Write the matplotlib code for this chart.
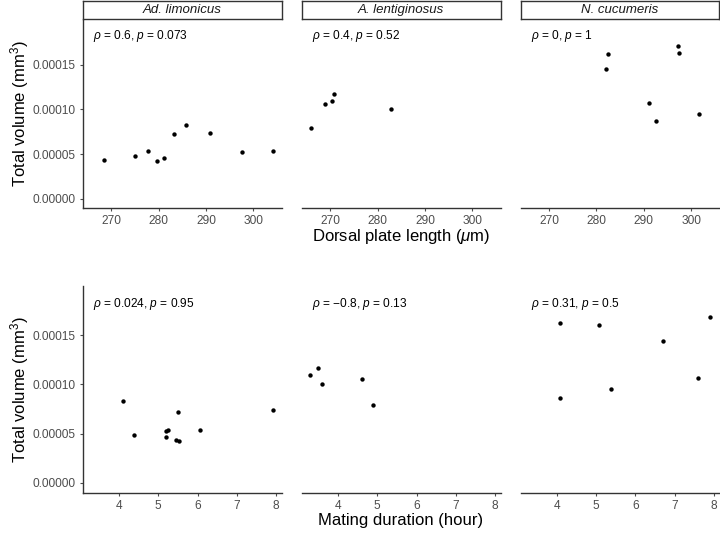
import matplotlib
matplotlib.use("Agg")
import matplotlib.pyplot as plt

plt.rcParams["font.family"] = ["Liberation Sans", "DejaVu Sans"]
plt.rcParams["mathtext.fontset"] = "custom"
plt.rcParams["mathtext.rm"] = "Liberation Sans"
plt.rcParams["mathtext.it"] = "Liberation Sans:italic"

species = ["Ad. limonicus", "A. lentiginosus", "N. cucumeris"]

# dorsal plate length (um) vs total volume (mm^3)
length_lim = [268.5, 275.0, 277.7, 279.7, 281.2, 283.2, 285.9, 290.8, 297.6, 304.1]
vol_len_lim = [4.30e-5, 4.80e-5, 5.32e-5, 4.19e-5, 4.57e-5, 7.21e-5, 8.26e-5, 7.35e-5, 5.20e-5, 5.32e-5]
length_len = [265.9, 268.9, 270.4, 270.8, 282.9]
vol_len_len = [7.96e-5, 1.06e-4, 1.097e-4, 1.17e-4, 1.003e-4]
length_cuc = [282.5, 282.0, 297.3, 297.4, 291.2, 292.5, 301.6]
vol_len_cuc = [1.622e-4, 1.456e-4, 1.708e-4, 1.633e-4, 1.071e-4, 8.68e-5, 9.50e-5]

# mating duration (hour) vs total volume
dur_lim = [4.11, 4.39, 5.21, 5.26, 5.21, 5.51, 5.45, 5.52, 6.07, 7.92]
vol_dur_lim = [8.27e-5, 4.88e-5, 5.24e-5, 5.38e-5, 4.68e-5, 7.23e-5, 4.38e-5, 4.30e-5, 5.34e-5, 7.36e-5]
dur_len = [3.29, 3.50, 3.59, 4.60, 4.90]
vol_dur_len = [1.093e-4, 1.166e-4, 1.002e-4, 1.058e-4, 7.96e-5]
dur_cuc = [4.09, 4.09, 5.08, 5.39, 6.70, 7.60, 7.90]
vol_dur_cuc = [1.620e-4, 8.67e-5, 1.607e-4, 9.52e-5, 1.446e-4, 1.069e-4, 1.690e-4]

cor_len = [r"$\rho$ = 0.6, $p$ = 0.073", r"$\rho$ = 0.4, $p$ = 0.52", r"$\rho$ = 0, $p$ = 1"]
cor_dur = [r"$\rho$ = 0.024, $p$ = 0.95", r"$\rho$ = $-$0.8, $p$ = 0.13", r"$\rho$ = 0.31, $p$ = 0.5"]

len_ticks = [270, 280, 290, 300]
dur_ticks = [4, 5, 6, 7, 8]
vol_ticks = [0, 5e-5, 1e-4, 1.5e-4]
vol_labels = ["0.00000", "0.00005", "0.00010", "0.00015"]

W, H = 720, 533
fig = plt.figure(figsize=(W / 100, H / 100), dpi=100)


def box(x0, y0, x1, y1):
    return [x0 / W, 1 - y1 / H, (x1 - x0) / W, (y1 - y0) / H]


cols = [(82.7, 281.7), (301.7, 500.7), (520.7, 719.5)]
rows = [
    dict(y=(20, 207.7), xs=[length_lim, length_len, length_cuc],
         ys=[vol_len_lim, vol_len_len, vol_len_cuc], xlim=(264.0, 306.0),
         ticks=len_ticks, cor=cor_len, strip=True,
         xlabel=r"Dorsal plate length ($\mu$m)", xlab_y=237),
    dict(y=(286, 492.7), xs=[dur_lim, dur_len, dur_cuc],
         ys=[vol_dur_lim, vol_dur_len, vol_dur_cuc], xlim=(3.075, 8.145),
         ticks=dur_ticks, cor=cor_dur, strip=False,
         xlabel="Mating duration (hour)", xlab_y=521),
]

grey = "#4D4D4D"
for r in rows:
    y0, y1 = r["y"]
    for i, (x0, x1) in enumerate(cols):
        ax = fig.add_axes(box(x0, y0, x1, y1))
        ax.scatter(r["xs"][i], r["ys"][i], s=10, color="black", linewidths=0, zorder=3)
        ax.set_xlim(*r["xlim"])
        ax.set_ylim(-1.0e-5, 2.0e-4)
        ax.set_xticks(r["ticks"])
        ax.set_yticks(vol_ticks)
        ax.set_yticklabels(vol_labels)
        for s in ["top", "right"]:
            ax.spines[s].set_visible(False)
        ax.spines["bottom"].set_color("#333333")
        ax.spines["left"].set_color("#333333")
        ax.spines["bottom"].set_linewidth(1.0)
        ax.spines["left"].set_linewidth(1.0)
        ax.tick_params(labelsize=8.6, colors=grey, length=2.5, width=0.8, pad=3)
        if i > 0:
            ax.spines["left"].set_visible(False)
            ax.tick_params(axis="y", left=False, labelleft=False)
        ax.text(0.053, 0.915, r["cor"][i], transform=ax.transAxes,
                ha="left", va="center", fontsize=8.6, color="black")
        if r["strip"]:
            sax = fig.add_axes(box(x0, 1, x1, 19))
            sax.set_xticks([])
            sax.set_yticks([])
            for s in sax.spines.values():
                s.set_color("#333333")
                s.set_linewidth(1.0)
            sax.text(0.5, 0.5, species[i], ha="center", va="center",
                     fontsize=9.5, style="italic", color="#1A1A1A")
    fig.text(401 / W, 1 - r["xlab_y"] / H, r["xlabel"], ha="center", va="center",
             fontsize=12)
    fig.text(20 / W, 1 - (y0 + y1) / 2 / H, r"Total volume (mm$^3$)", rotation=90,
             ha="center", va="center", fontsize=12)

fig.savefig("out.png", dpi=100)
